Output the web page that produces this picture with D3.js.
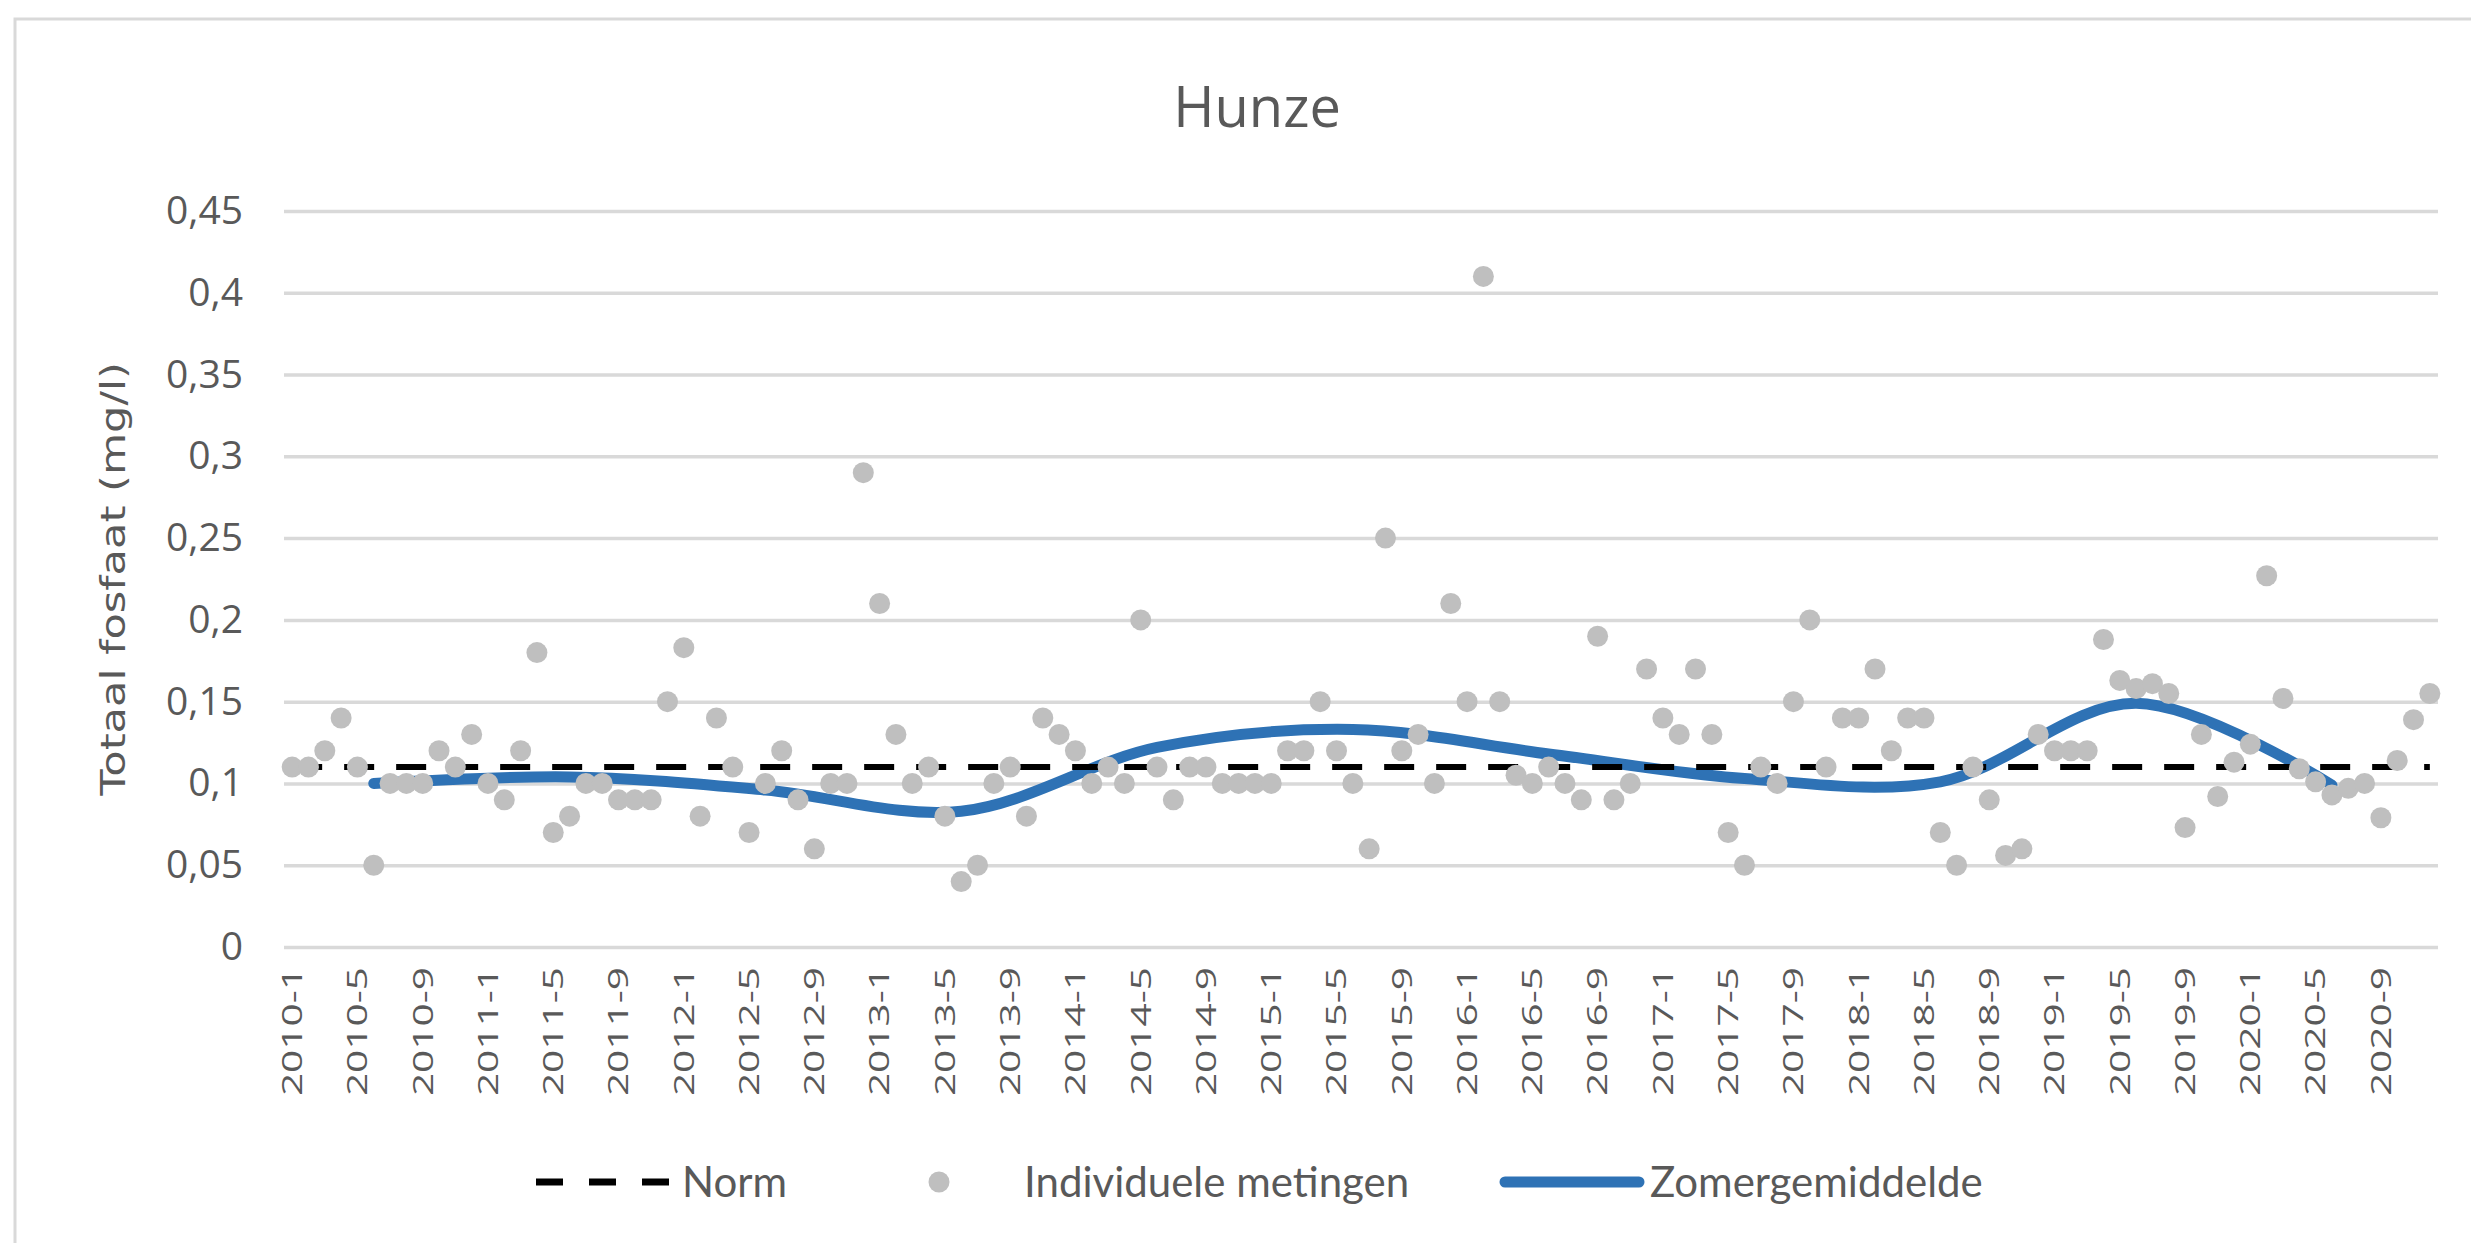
<!DOCTYPE html>
<html>
<head>
<meta charset="utf-8">
<script src="https://cdn.jsdelivr.net/npm/d3@7"></script>
<style>
  html, body { margin: 0; padding: 0; background: #ffffff; }
  svg { display: block; }
</style>
</head>
<body>
<svg id="chart"></svg>
<script>
/* ═══════════════════════════════════════════════
   HUNZE — totaal fosfaat, maandmetingen + zomergemiddelde
   ═══════════════════════════════════════════════ */

const W = 2471, H = 1243;

// ── DATA ──────────────────────────────────────────────────────────────────────

const YEARS  = [2010, 2011, 2012, 2013, 2014, 2015, 2016, 2017, 2018, 2019, 2020];
const MONTHS = YEARS.flatMap(y => d3.range(1, 13).map(m => `${y}-${m}`));

// individuele metingen, one per month 2010-1 .. 2020-12
const METINGEN = [
  0.11, 0.11, 0.12, 0.14, 0.11, 0.05, 0.10, 0.10, 0.10, 0.12, 0.11, 0.13,   // 2010
  0.10, 0.09, 0.12, 0.18, 0.07, 0.08, 0.10, 0.10, 0.09, 0.09, 0.09, 0.15,   // 2011
  0.183, 0.08, 0.14, 0.11, 0.07, 0.10, 0.12, 0.09, 0.06, 0.10, 0.10, 0.29,  // 2012
  0.21, 0.13, 0.10, 0.11, 0.08, 0.04, 0.05, 0.10, 0.11, 0.08, 0.14, 0.13,   // 2013
  0.12, 0.10, 0.11, 0.10, 0.20, 0.11, 0.09, 0.11, 0.11, 0.10, 0.10, 0.10,   // 2014
  0.10, 0.12, 0.12, 0.15, 0.12, 0.10, 0.06, 0.25, 0.12, 0.13, 0.10, 0.21,   // 2015
  0.15, 0.41, 0.15, 0.105, 0.10, 0.11, 0.10, 0.09, 0.19, 0.09, 0.10, 0.17,  // 2016
  0.14, 0.13, 0.17, 0.13, 0.07, 0.05, 0.11, 0.10, 0.15, 0.20, 0.11, 0.14,   // 2017
  0.14, 0.17, 0.12, 0.14, 0.14, 0.07, 0.05, 0.11, 0.09, 0.056, 0.06, 0.13,  // 2018
  0.12, 0.12, 0.12, 0.188, 0.163, 0.158, 0.161, 0.155, 0.073, 0.13, 0.092, 0.113, // 2019
  0.124, 0.227, 0.152, 0.109, 0.101, 0.093, 0.097, 0.100, 0.079, 0.114, 0.139, 0.155 // 2020
];

// zomergemiddelde, plotted at june of each year
const ZOMER_MONTHS = YEARS.map(y => `${y}-6`);
const ZOMER_VALUES = [0.100, 0.104, 0.096, 0.083, 0.122, 0.133, 0.118, 0.103, 0.101, 0.149, 0.099];

const NORM    = 0.11;
const Y_TICKS = [0, 0.05, 0.1, 0.15, 0.2, 0.25, 0.3, 0.35, 0.4, 0.45];
const X_TICKS = MONTHS.filter((d, i) => i % 4 === 0);

const TITLE   = 'Hunze';
const Y_TITLE = 'Totaal fosfaat (mg/l)';
const LEGEND  = ['Norm', 'Individuele metingen', 'Zomergemiddelde'];

// ── STYLE ─────────────────────────────────────────────────────────────────────

const TEXT_COLOR = '#595959';
const GRID_COLOR = '#d9d9d9';
const DOT_COLOR  = '#bfbfbf';
const LINE_COLOR = '#2e72b5';

const plot = { left: 284, right: 2438, top: 211, bottom: 947 };

// ── SETUP ─────────────────────────────────────────────────────────────────────

const svg = d3.select('#chart').attr('width', W).attr('height', H);

svg.append('rect').attr('width', W).attr('height', H).attr('fill', '#ffffff');

// chart frame (cut off at right/bottom like the source)
svg.append('rect')
  .attr('x', 15).attr('y', 19)
  .attr('width', W + 40).attr('height', H + 40)
  .attr('fill', 'none')
  .attr('stroke', GRID_COLOR)
  .attr('stroke-width', 3);

const x = d3.scaleBand().domain(MONTHS).range([plot.left, plot.right]).padding(0);
const y = d3.scaleLinear().domain([0, 0.45]).range([plot.bottom, plot.top]);
const cx = d => x(d) + x.bandwidth() / 2;

const fmt = v => String(+v.toFixed(2)).replace('.', ',');

// ── TITLE ─────────────────────────────────────────────────────────────────────

svg.append('text')
  .attr('x', 1257).attr('y', 127)
  .attr('text-anchor', 'middle')
  .attr('font-family', "'Open Sans', sans-serif")
  .attr('font-size', 56)
  .attr('fill', TEXT_COLOR)
  .text(TITLE);

// ── Y AXIS + GRID ─────────────────────────────────────────────────────────────

const yAxis = svg.append('g')
  .attr('transform', `translate(${plot.left},0)`)
  .call(d3.axisLeft(y)
    .tickValues(Y_TICKS)
    .tickSize(-(plot.right - plot.left))
    .tickPadding(41)
    .tickFormat(fmt));

yAxis.select('.domain').remove();
yAxis.selectAll('.tick line')
  .attr('stroke', GRID_COLOR)
  .attr('stroke-width', 3.5);
yAxis.selectAll('.tick text')
  .attr('font-family', "'Open Sans', sans-serif")
  .attr('font-size', 39)
  .attr('fill', TEXT_COLOR);

svg.append('text')
  .attr('transform', 'translate(113,579) rotate(-90) scale(1.27,1)')
  .attr('text-anchor', 'middle')
  .attr('dy', '0.35em')
  .attr('font-family', "'DejaVu Sans', sans-serif")
  .attr('font-size', 34)
  .attr('fill', TEXT_COLOR)
  .text(Y_TITLE);

// ── X AXIS ────────────────────────────────────────────────────────────────────

const xAxis = svg.append('g')
  .attr('transform', `translate(0,${plot.bottom})`)
  .call(d3.axisBottom(x).tickValues(X_TICKS).tickSize(0));

xAxis.select('.domain').remove();
xAxis.selectAll('.tick text')
  .attr('transform', 'translate(0,20) rotate(-90) scale(1.45,1)')
  .attr('text-anchor', 'end')
  .attr('x', 0).attr('y', 0)
  .attr('dy', '0.35em')
  .attr('font-family', "'Open Sans', sans-serif")
  .attr('font-size', 28)
  .attr('fill', TEXT_COLOR);

// ── SERIES ────────────────────────────────────────────────────────────────────

// zomergemiddelde, smoothed
const zomer = ZOMER_MONTHS.map((m, i) => ({ m, v: ZOMER_VALUES[i] }));
svg.append('path')
  .datum(zomer)
  .attr('fill', 'none')
  .attr('stroke', LINE_COLOR)
  .attr('stroke-width', 11)
  .attr('stroke-linecap', 'round')
  .attr('stroke-linejoin', 'round')
  .attr('d', d3.line().x(d => cx(d.m)).y(d => y(d.v)).curve(d3.curveCatmullRom));

// norm
svg.append('path')
  .datum([MONTHS[0], MONTHS[MONTHS.length - 1]])
  .attr('fill', 'none')
  .attr('stroke', '#000000')
  .attr('stroke-width', 6)
  .attr('stroke-dasharray', '30 22')
  .attr('d', d3.line().x(d => cx(d)).y(() => y(NORM)));

// individuele metingen
svg.append('g')
  .selectAll('circle')
  .data(METINGEN.map((v, i) => ({ m: MONTHS[i], v })))
  .join('circle')
  .attr('cx', d => cx(d.m))
  .attr('cy', d => y(d.v))
  .attr('r', 10.5)
  .attr('fill', DOT_COLOR);

// ── LEGEND ────────────────────────────────────────────────────────────────────

const legendY = 1182;
const legend = svg.append('g').attr('font-family', "Lato, sans-serif").attr('font-size', 42).attr('fill', TEXT_COLOR);

legend.append('line')
  .attr('x1', 536).attr('x2', 670).attr('y1', legendY).attr('y2', legendY)
  .attr('stroke', '#000000').attr('stroke-width', 7).attr('stroke-dasharray', '27 26');
legend.append('text').attr('x', 682).attr('y', legendY).attr('dy', '0.35em').text(LEGEND[0]);

legend.append('circle').attr('cx', 939).attr('cy', legendY).attr('r', 10.5).attr('fill', DOT_COLOR);
legend.append('text').attr('x', 1024).attr('y', legendY).attr('dy', '0.35em').text(LEGEND[1]);

legend.append('line')
  .attr('x1', 1505).attr('x2', 1639).attr('y1', legendY).attr('y2', legendY)
  .attr('stroke', LINE_COLOR).attr('stroke-width', 11).attr('stroke-linecap', 'round');
legend.append('text').attr('x', 1650).attr('y', legendY).attr('dy', '0.35em').text(LEGEND[2]);
</script>
</body>
</html>
